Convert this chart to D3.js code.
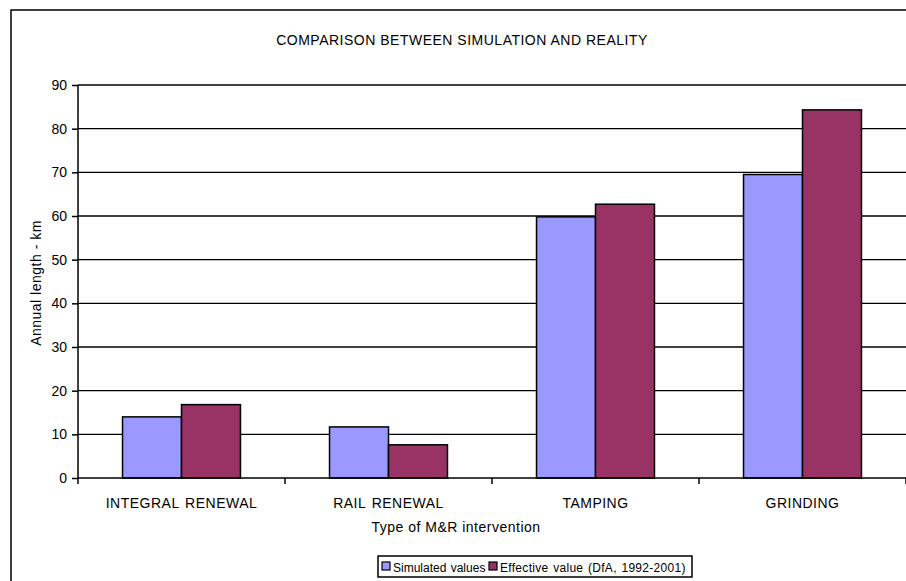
<!DOCTYPE html>
<html><head><meta charset="utf-8">
<script src="https://cdn.jsdelivr.net/npm/d3@7"></script>
<style>html,body{margin:0;padding:0;background:#fff;}svg{display:block;font-family:"Liberation Sans",Arial,sans-serif;}</style>
</head><body>
<svg id="c" width="906" height="581"></svg>
<script>
const categories = ["INTEGRAL RENEWAL", "RAIL RENEWAL", "TAMPING", "GRINDING"];
const seriesNames = ["Simulated values", "Effective value (DfA, 1992-2001)"];
const simulated = [14.0, 11.7, 59.8, 69.5];
const effective = [16.8, 7.6, 62.7, 84.3];
const yTicks = [0, 10, 20, 30, 40, 50, 60, 70, 80, 90];
const colors = ["#9999FF", "#993366"];
const title = "COMPARISON BETWEEN SIMULATION AND REALITY";
const xTitle = "Type of M&R intervention";
const yTitle = "Annual length - km";

(function () {
const svg = d3.select("#c");
const pL = 78, pR = 906, pT = 85, pB = 478;
const FS = 14, LS = 0.5;

svg.append("rect").attr("x", 11).attr("y", 10).attr("width", 1000).attr("height", 1000)
  .attr("fill", "none").attr("stroke", "#000").attr("stroke-width", 1.5);

const x = d3.scaleBand().domain(categories).range([pL, pR]).paddingInner(0).paddingOuter(0);
const x1 = d3.scaleBand().domain(seriesNames).range([0, x.bandwidth()]).paddingInner(0).paddingOuter(0.755);
const y = d3.scaleLinear().domain([0, 90]).range([pB, pT]);

svg.append("g").selectAll("line").data(yTicks.filter(d => d > 0)).join("line")
  .attr("x1", pL).attr("x2", pR).attr("y1", d => y(d)).attr("y2", d => y(d))
  .attr("stroke", "#000").attr("stroke-width", 1.3);

const data = categories.map((c, i) => ({c, vals: [simulated[i], effective[i]]}));
svg.append("g").selectAll("g").data(data).join("g")
  .attr("transform", d => `translate(${x(d.c)},0)`)
  .selectAll("rect").data(d => d.vals.map((v, j) => ({v, s: seriesNames[j], j})))
  .join("rect")
  .attr("x", d => x1(d.s)).attr("width", x1.bandwidth())
  .attr("y", d => y(d.v)).attr("height", d => y(0) - y(d.v))
  .attr("fill", d => colors[d.j]).attr("stroke", "#000").attr("stroke-width", 1.5);

const yAxis = d3.axisLeft(y).tickValues(yTicks).tickSize(6).tickPadding(5);
const ya = svg.append("g").attr("transform", `translate(${pL},0)`).call(yAxis);
ya.select(".domain").attr("stroke", "#000").attr("stroke-width", 1.5).attr("d", `M0,${y(90)}V${y(0)}`);
ya.selectAll(".tick line").attr("stroke", "#000").attr("stroke-width", 1.5);
ya.selectAll("text").attr("font-size", FS).attr("fill", "#000").attr("font-family", "Liberation Sans, Arial");

const xAxis = d3.axisBottom(x).tickSize(0).tickPadding(20);
const xa = svg.append("g").attr("transform", `translate(0,${pB})`).call(xAxis);
xa.select(".domain").attr("stroke", "#000").attr("stroke-width", 1.5).attr("d", `M${pL},0H${pR}`);
xa.selectAll("text").attr("font-size", FS).attr("letter-spacing", LS).attr("word-spacing", 1.5)
  .attr("fill", "#000").attr("font-family", "Liberation Sans, Arial");
const bounds = categories.map(c => x(c)).concat([x(categories[categories.length-1]) + x.bandwidth()]);
xa.selectAll(".bt").data(bounds).join("line").attr("class", "bt")
  .attr("x1", d => d).attr("x2", d => d).attr("y1", 0).attr("y2", 6)
  .attr("stroke", "#000").attr("stroke-width", 1.5);

svg.append("text").attr("x", 462).attr("y", 45).attr("text-anchor", "middle")
  .attr("font-size", FS).attr("letter-spacing", LS).text(title);
svg.append("text").attr("x", 456).attr("y", 532).attr("text-anchor", "middle")
  .attr("font-size", FS).attr("letter-spacing", LS).text(xTitle);
svg.append("text").attr("transform", "translate(41,283) rotate(-90)").attr("text-anchor", "middle")
  .attr("font-size", FS).attr("letter-spacing", LS).text(yTitle);

const lg = svg.append("g");
lg.append("rect").attr("x", 378).attr("y", 556).attr("width", 314).attr("height", 21)
  .attr("fill", "#fff").attr("stroke", "#000").attr("stroke-width", 1.5);
const items = [{n: seriesNames[0], x: 382}, {n: seriesNames[1], x: 489}];
items.forEach((it, i) => {
  lg.append("rect").attr("x", it.x).attr("y", 562).attr("width", 8).attr("height", 8)
    .attr("fill", colors[i]).attr("stroke", "#000").attr("stroke-width", 1.2);
  lg.append("text").attr("x", it.x + 11).attr("y", 571.5).attr("font-size", 12)
    .attr("letter-spacing", i ? 0.3 : 0).attr("word-spacing", 1).text(it.n);
});
})();
</script>
</body></html>
